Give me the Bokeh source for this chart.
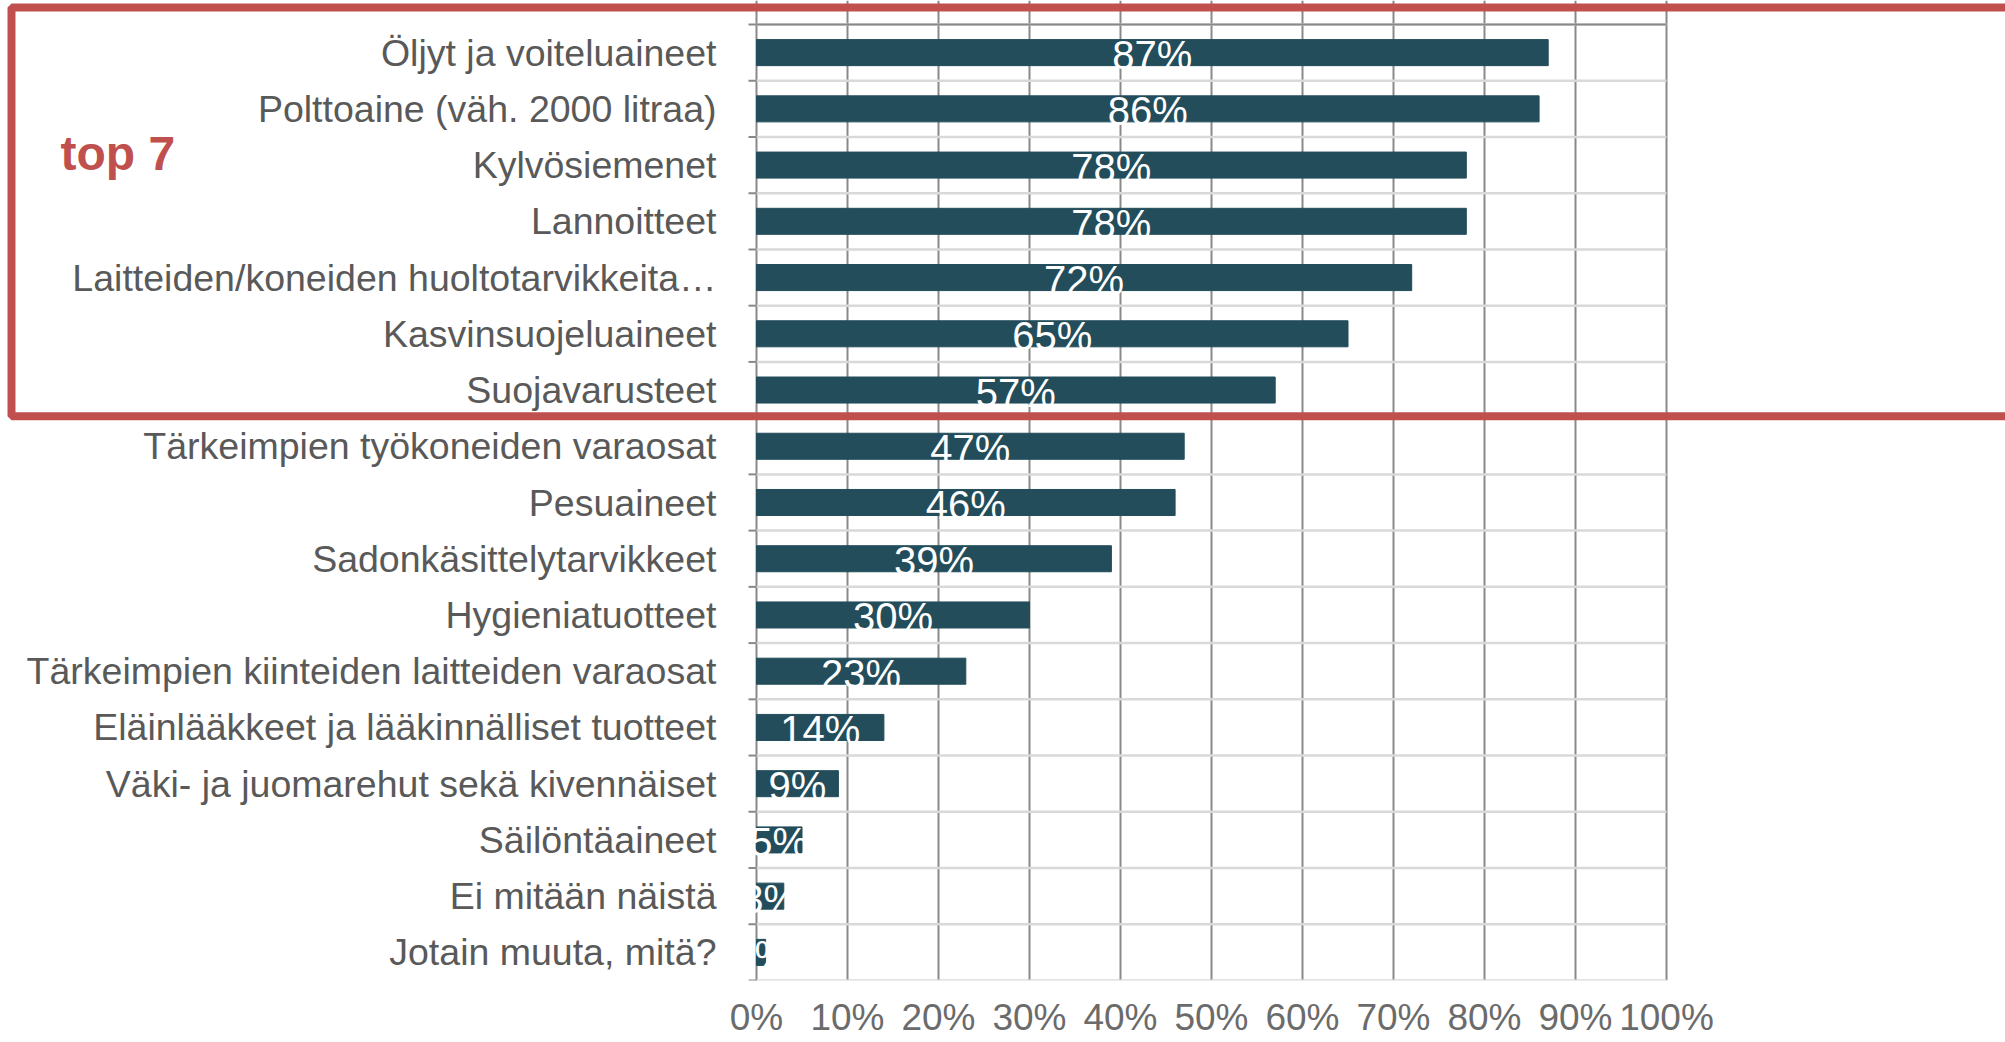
from bokeh.plotting import figure
from bokeh.models import (Range1d, FixedTicker, NumeralTickFormatter, BoxAnnotation,
                          Label, ColumnDataSource)
from bokeh.core.properties import value
from bokeh.embed import file_html
from bokeh.resources import INLINE

categories = [
    "Öljyt ja voiteluaineet",
    "Polttoaine (väh. 2000 litraa)",
    "Kylvösiemenet",
    "Lannoitteet",
    "Laitteiden/koneiden huoltotarvikkeita…",
    "Kasvinsuojeluaineet",
    "Suojavarusteet",
    "Tärkeimpien työkoneiden varaosat",
    "Pesuaineet",
    "Sadonkäsittelytarvikkeet",
    "Hygieniatuotteet",
    "Tärkeimpien kiinteiden laitteiden varaosat",
    "Eläinlääkkeet ja lääkinnälliset tuotteet",
    "Väki- ja juomarehut sekä kivennäiset",
    "Säilöntäaineet",
    "Ei mitään näistä",
    "Jotain muuta, mitä?",
]
values = [87, 86, 78, 78, 72, 65, 57, 47, 46, 39, 30, 23, 14, 9, 5, 3, 1]
x_ticks = [0, 10, 20, 30, 40, 50, 60, 70, 80, 90, 100]
highlight_text = "top 7"
highlight_count = 7

FONT = "Liberation Sans"
BAR = "#234D5B"
RED = "#C0504D"
GRID_DARK = "#898989"
GRID_LIGHT = "#D9D9D9"

# ---- layout (pixels) ----
W, H = 2005, 1042
X0_PX, X1_PX = 756, 1666        # 0% and 100% positions
Y0_PX, Y1_PX = 24, 980          # top and bottom of category area
BOTTOM_BORDER = H - Y1_PX

n = len(categories)
px_x = (X1_PX - X0_PX)           # px per unit (x)
px_y = (Y1_PX - Y0_PX) / n       # px per category
x_start = -X0_PX / px_x
x_end = (W - X0_PX) / px_x
y_top = -Y0_PX / px_y

centers = [i + 0.5 for i in range(n)]
bounds = [float(i) for i in range(n + 1)]

bars = ColumnDataSource(dict(
    y=centers,
    share=[v / 100 for v in values],
    mid=[v / 200 for v in values],
    label_y=[c + 2.5 / px_y for c in centers],
    label=[f"{v}%" for v in values],
))
cats = ColumnDataSource(dict(y=centers, cat=categories))

p = figure(width=W, height=H,
           x_range=Range1d(x_start, x_end), y_range=Range1d(n, y_top),
           output_backend="svg", toolbar_location=None,
           y_axis_location=None,
           min_border=0, min_border_bottom=BOTTOM_BORDER)
p.outline_line_color = None
p.background_fill_color = "white"
p.border_fill_color = "white"

# x axis (percent) below
xt = FixedTicker(ticks=[t / 100 for t in x_ticks], minor_ticks=[])
p.xaxis.ticker = xt
p.xgrid.ticker = xt
p.xaxis.formatter = NumeralTickFormatter(format="0%")
p.xaxis.axis_line_color = None
p.xaxis.major_tick_line_color = None
p.xaxis.minor_tick_line_color = None
p.xaxis.major_tick_out = 0
p.xaxis.major_tick_in = 0
p.xaxis.major_label_text_font = FONT
p.xaxis.major_label_text_font_size = "37px"
p.xaxis.major_label_text_line_height = 1.0
p.xaxis.major_label_text_color = "#6B6B6B"
p.xaxis.major_label_standoff = 16
p.xgrid.grid_line_color = GRID_DARK
p.xgrid.grid_line_width = 2
p.ygrid.grid_line_color = None

# horizontal light category separators
p.segment(x0=0, x1=1, y0=bounds, y1=bounds, line_color=GRID_LIGHT, line_width=2.5)
# top (axis) line, darker
p.segment(x0=0, x1=1, y0=bounds[0], y1=bounds[0], line_color=GRID_DARK, line_width=2)
# category axis tick marks (outside)
p.segment(x0=-8 / px_x, x1=0, y0=bounds, y1=bounds, line_color=GRID_DARK, line_width=2)

# bars
p.hbar(y="y", right="share", left=0, height=0.463, color=BAR, source=bars)
p.text(x="mid", y="label_y", text="label", text_align="center", text_baseline="middle",
       text_color="white", text_font=value(FONT), text_font_size="40px", source=bars)

# category labels
p.text(x=-40 / px_x, y="y", text="cat", text_align="right", text_baseline="middle",
       text_color="#595959", text_font=value(FONT), text_font_size="37.5px", source=cats)

# highlight box around top 7
p.add_layout(BoxAnnotation(left=11, right=W + 100, top=7,
                           bottom=Y0_PX + highlight_count * px_y - 2,
                           left_units="canvas", right_units="canvas",
                           top_units="canvas", bottom_units="canvas",
                           fill_color=None, fill_alpha=0,
                           line_color=RED, line_alpha=1.0, line_width=8, level="overlay"))
p.add_layout(Label(x=60, y=153, x_units="canvas", y_units="canvas", text=highlight_text,
                   text_font=FONT, text_font_size="48px", text_font_style="bold",
                   text_color=RED, text_baseline="middle"))

open("out.html", "w").write(file_html(p, INLINE))
